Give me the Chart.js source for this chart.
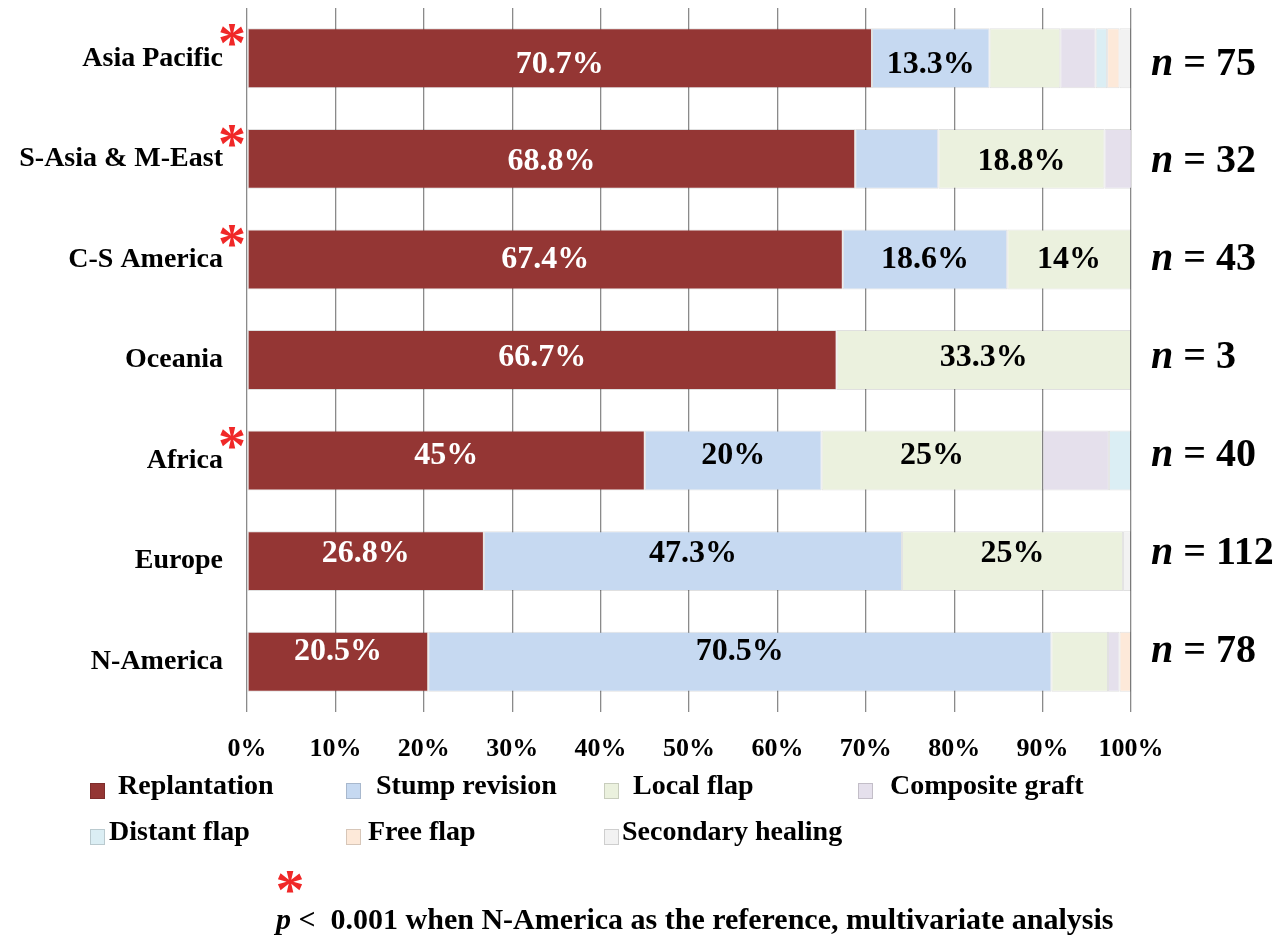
<!DOCTYPE html>
<html>
<head>
<meta charset="utf-8">
<script src="https://cdn.jsdelivr.net/npm/chart.js@4"></script>
<style>
  html, body { margin: 0; padding: 0; background: #fff; }
  #wrap { width: 1286px; height: 939px; }
</style>
</head>
<body>
<div id="wrap"><canvas id="chart" width="1286" height="939"></canvas></div>
<script>
var regions = ["Asia Pacific", "S-Asia & M-East", "C-S America", "Oceania", "Africa", "Europe", "N-America"];
var sampleSizes = [75, 32, 43, 3, 40, 112, 78];
var significant = [true, true, true, false, true, false, false];

var replantation     = [70.7, 68.8, 67.4, 66.7, 45.0, 26.8, 20.5];
var stumpRevision    = [13.3,  9.4, 18.6,  0,   20.0, 47.3, 70.5];
var localFlap        = [ 8.0, 18.8, 14.0, 33.3, 25.0, 25.0,  6.4];
var compositeGraft   = [ 4.0,  3.1,  0,    0,    7.5,  0,    1.3];
var distantFlap      = [ 1.3,  0,    0,    0,    2.5,  0,    0];
var freeFlap         = [ 1.4,  0,    0,    0,    0,    0,    1.3];
var secondaryHealing = [ 1.3,  0,    0,    0,    0,    0.9,  0];

var seriesNames = ["Replantation", "Stump revision", "Local flap", "Composite graft",
                   "Distant flap", "Free flap", "Secondary healing"];
var seriesColors = ["#943634", "#c6d9f1", "#ebf1de", "#e5e0ec", "#dbeef4", "#fde9d9", "#f2f2f2"];
var xTicks = [0, 10, 20, 30, 40, 50, 60, 70, 80, 90, 100];
var footnote = " <  0.001 when N-America as the reference, multivariate analysis";

var SERIF = "'Liberation Serif', 'DejaVu Serif', serif";
var allSeries = [replantation, stumpRevision, localFlap, compositeGraft, distantFlap, freeFlap, secondaryHealing];

function fmt(v) {
  return (Math.round(v * 10) / 10).toString() + "%";
}

// the printed labels drift a little from the bar centres in the original
function labelY(scale, i) {
  return scale.getPixelForValue(i) + 6 - 2.7 * i;
}

var datasets = allSeries.map(function(vals, i) {
  return {
    label: seriesNames[i],
    data: vals,
    backgroundColor: seriesColors[i],
    borderColor: "rgba(0,0,0,0.12)",
    borderWidth: 1,
    borderSkipped: false,
    barPercentage: 0.596,
    categoryPercentage: 1.0
  };
});

// value labels inside the bars
var barLabels = {
  id: "barLabels",
  afterDatasetsDraw: function(chart) {
    var ctx = chart.ctx;
    var y = chart.scales.y;
    ctx.save();
    ctx.font = "bold 32px " + SERIF;
    ctx.textAlign = "center";
    ctx.textBaseline = "middle";
    chart.data.datasets.forEach(function(ds, di) {
      var meta = chart.getDatasetMeta(di);
      meta.data.forEach(function(bar, i) {
        var v = ds.data[i];
        if (v < 10) return;
        var p = bar.getCenterPoint();
        ctx.fillStyle = di === 0 ? "#ffffff" : "#000000";
        ctx.fillText(fmt(v), p.x, labelY(y, i));
      });
    });
    ctx.restore();
  }
};

// n = .., asterisks, legend, footnote
var extras = {
  id: "extras",
  afterDraw: function(chart) {
    var ctx = chart.ctx;
    var y = chart.scales.y;
    ctx.save();

    // sample sizes on the right
    ctx.textBaseline = "middle";
    ctx.textAlign = "left";
    ctx.fillStyle = "#000";
    regions.forEach(function(r, i) {
      var cy = labelY(y, i);
      ctx.font = "italic bold 40px " + SERIF;
      ctx.fillText("n", 1151, cy);
      var w = ctx.measureText("n").width;
      ctx.font = "bold 40px " + SERIF;
      ctx.fillText(" = " + sampleSizes[i], 1151 + w, cy);
    });

    // red asterisks
    function star(x, cy, size) {
      ctx.font = "bold " + size + "px " + SERIF;
      ctx.fillStyle = "#f02828";
      ctx.textAlign = "center";
      ctx.textBaseline = "alphabetic";
      var m = ctx.measureText("*");
      var mid = (m.actualBoundingBoxAscent - m.actualBoundingBoxDescent) / 2;
      ctx.fillText("*", x, cy + mid);
    }
    regions.forEach(function(r, i) {
      if (significant[i]) star(232, y.getPixelForValue(i) - 23, 56);
    });

    // legend
    var slots = [
      { sx: 90,  sy: 783, tx: 118, ty: 787 },
      { sx: 346, sy: 783, tx: 376, ty: 787 },
      { sx: 604, sy: 783, tx: 633, ty: 787 },
      { sx: 858, sy: 783, tx: 890, ty: 787 },
      { sx: 90,  sy: 829, tx: 109, ty: 833 },
      { sx: 346, sy: 829, tx: 368, ty: 833 },
      { sx: 604, sy: 829, tx: 622, ty: 833 }
    ];
    chart.data.datasets.forEach(function(ds, i) {
      var s = slots[i];
      ctx.fillStyle = ds.backgroundColor;
      ctx.fillRect(s.sx, s.sy, 15, 16);
      ctx.strokeStyle = "rgba(0,0,0,0.15)";
      ctx.lineWidth = 1;
      ctx.strokeRect(s.sx + 0.5, s.sy + 0.5, 14, 15);
      ctx.fillStyle = "#000";
      ctx.font = "bold 28px " + SERIF;
      ctx.textAlign = "left";
      ctx.textBaseline = "middle";
      ctx.fillText(ds.label, s.tx, s.ty);
    });

    // footnote
    star(290, 882, 58);
    ctx.fillStyle = "#000";
    ctx.textAlign = "left";
    ctx.textBaseline = "middle";
    ctx.font = "italic bold 30px " + SERIF;
    ctx.fillText("p", 276, 921);
    var pw = ctx.measureText("p").width;
    ctx.font = "bold 30px " + SERIF;
    ctx.fillText(footnote, 276 + pw, 921);

    ctx.restore();
  }
};

new Chart(document.getElementById("chart"), {
  type: "bar",
  data: { labels: regions, datasets: datasets },
  options: {
    indexAxis: "y",
    responsive: false,
    animation: false,
    layout: { padding: { left: 0, right: 155, top: 8, bottom: 180 } },
    plugins: {
      legend: { display: false },
      tooltip: { enabled: false }
    },
    scales: {
      x: {
        stacked: true,
        min: 0,
        max: 100,
        afterBuildTicks: function(scale) {
          scale.ticks = xTicks.map(function(v) { return { value: v }; });
        },
        afterFit: function(scale) {
          scale.height = 939 - 712 - 180;
          scale.paddingLeft = 0;
          scale.paddingRight = 0;
        },
        grid: { color: "#8a8a8a", lineWidth: 1.3, drawTicks: false },
        border: { display: false },
        ticks: {
          padding: 22,
          color: "#000",
          font: { family: SERIF, size: 26, weight: "bold" },
          callback: function(v) { return v + "%"; }
        }
      },
      y: {
        stacked: true,
        afterFit: function(scale) {
          scale.width = 247;
          scale.paddingTop = 0;
          scale.paddingBottom = 0;
        },
        grid: { display: false, drawTicks: false },
        border: { display: false },
        ticks: {
          padding: 24,
          color: "#000",
          font: { family: SERIF, size: 28, weight: "bold" }
        }
      }
    }
  },
  plugins: [barLabels, extras]
});
</script>
</body>
</html>
